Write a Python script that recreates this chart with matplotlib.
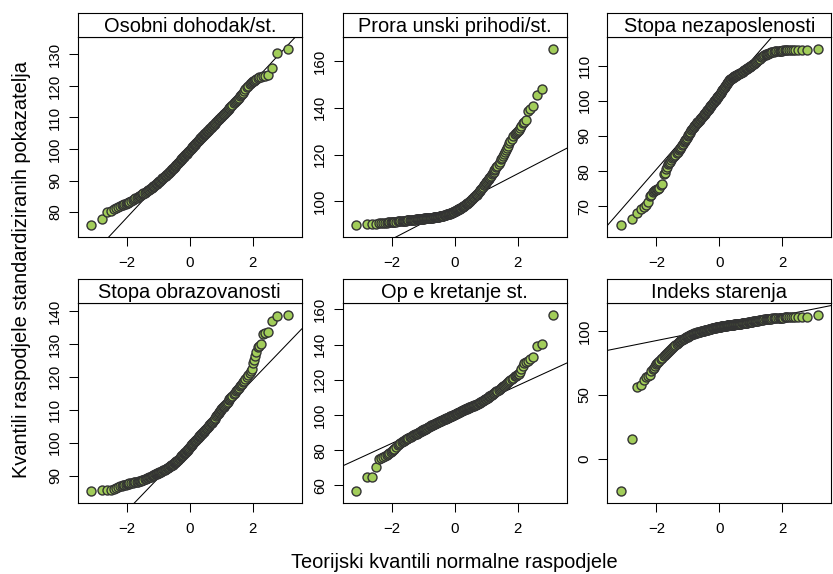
import numpy as np
import matplotlib
matplotlib.use("Agg")
import matplotlib.pyplot as plt
from statistics import NormalDist

plt.rcParams["font.family"] = ["Liberation Sans", "DejaVu Sans"]

# ================== DATA ==================
# 556 units; sorted sample values at these ranks
N_OBS = 556
ranks_lo = list(range(1, 17)) + list(range(18, 41, 2)) + list(range(43, 101, 3)) + list(range(104, 277, 4))
ranks = ranks_lo + [N_OBS + 1 - r for r in reversed(ranks_lo)]

titles = ["Osobni dohodak/st.", "Prora unski prihodi/st.", "Stopa nezaposlenosti",
          "Stopa obrazovanosti", "Op e kretanje st.", "Indeks starenja"]

osobni_dohodak = [
    75.9, 77.9, 80.0, 80.2, 80.9, 81.3, 81.6, 81.9, 82.1, 82.3, 82.5, 82.7, 82.85, 83.0, 83.15, 83.3,
    83.6, 83.85, 84.1, 84.35, 84.6, 84.8, 85.0, 85.2, 85.4, 85.6, 85.75, 85.9,
    86.15, 86.4, 86.65, 86.9, 87.1, 87.35, 87.55, 87.75, 88.0, 88.2,
    88.4, 88.65, 88.85, 89.05, 89.25, 89.45, 89.6, 89.8, 90.0, 90.2,
    90.45, 90.7, 90.9, 91.1, 91.3, 91.55, 91.8, 92.0, 92.2, 92.4,
    92.6, 92.85, 93.05, 93.25, 93.5, 93.7, 93.9, 94.1, 94.35, 94.6,
    94.8, 95.0, 95.2, 95.45, 95.65, 95.9, 96.1, 96.3, 96.55, 96.75,
    96.95, 97.15, 97.35, 97.55, 97.75, 97.95, 98.15, 98.35, 98.55, 98.75,
    98.95, 99.1, 99.3, 99.5,
    99.75, 99.95, 100.15, 100.35, 100.55, 100.75, 100.95, 101.15, 101.35, 101.55,
    101.8, 102.0, 102.2, 102.4, 102.6, 102.8, 103.0, 103.2, 103.4, 103.6,
    103.8, 104.0, 104.2, 104.4, 104.6, 104.8, 105.0, 105.2, 105.4, 105.6,
    105.85, 106.1, 106.35, 106.6, 106.8, 107.05, 107.3, 107.5, 107.75, 108.0,
    108.3, 108.6, 108.85, 109.1,
    109.4, 109.6, 109.85, 110.05, 110.3, 110.5, 110.75, 111.0, 111.25, 111.5,
    111.8, 112.1, 112.4, 112.7, 113.0, 113.3, 113.7, 114.1, 114.5, 114.9,
    115.3, 115.6, 115.95, 116.3, 116.7, 117.1, 117.5, 117.9, 118.4, 118.9, 119.5, 120.0,
    120.5, 120.8, 121.1, 121.4, 121.7, 122.0, 122.2, 122.5, 122.7, 122.9, 123.1, 123.3,
    123.5, 125.8, 130.4, 131.7]

proracunski_prihodi = [
    89.9, 90.2, 90.3, 90.5, 90.6, 90.7, 90.8, 90.9, 90.95, 91.0, 91.05, 91.1, 91.15, 91.2, 91.25, 91.3,
    91.35, 91.4, 91.5, 91.55, 91.6, 91.65, 91.7, 91.75, 91.8, 91.85, 91.9, 91.9,
    91.95, 92.0, 92.05, 92.1, 92.15, 92.2, 92.25, 92.3, 92.3, 92.35,
    92.4, 92.45, 92.5, 92.5, 92.55, 92.6, 92.65, 92.7, 92.7, 92.75,
    92.8, 92.8, 92.85, 92.9, 92.9, 92.95, 93.0, 93.0, 93.05, 93.1,
    93.15, 93.2, 93.25, 93.3, 93.35, 93.4, 93.45, 93.5, 93.6, 93.65,
    93.7, 93.75, 93.8, 93.9, 93.95, 94.0, 94.05, 94.15, 94.25, 94.3,
    94.4, 94.5, 94.55, 94.65, 94.75, 94.8, 94.9, 95.0, 95.1, 95.15,
    95.25, 95.35, 95.45, 95.55,
    95.7, 95.8, 95.95, 96.1, 96.25, 96.4, 96.55, 96.7, 96.85, 97.0,
    97.2, 97.35, 97.5, 97.65, 97.8, 98.0, 98.2, 98.4, 98.6, 98.8,
    99.0, 99.2, 99.4, 99.65, 99.9, 100.1, 100.35, 100.6, 100.85, 101.1,
    101.35, 101.65, 101.9, 102.2, 102.5, 102.85, 103.2, 103.55, 103.95, 104.4,
    104.8, 105.3, 105.8, 106.3,
    106.8, 107.2, 107.6, 108.0, 108.4, 108.8, 109.2, 109.6, 110.05, 110.5,
    111.0, 111.5, 112.0, 112.6, 113.2, 113.8, 114.5, 115.2, 116.0, 116.9,
    117.9, 118.6, 119.4, 120.2, 121.0, 121.9, 122.8, 123.8, 124.8, 125.8, 126.8, 127.8,
    128.7, 129.1, 129.5, 129.9, 130.4, 131.5, 132.3, 133.3, 134.1, 134.8, 138.4, 139.4,
    140.8, 145.5, 147.9, 165.1]

stopa_nezaposlenosti = [
    64.7, 66.4, 68.1, 69.1, 69.8, 70.3, 71.2, 72.8, 73.3, 74.0, 74.3, 74.6, 74.7, 74.9, 75.0, 75.2,
    76.0, 76.4, 79.1, 79.6, 80.5, 81.3, 81.9, 82.3, 82.7, 83.2, 83.6, 84.0,
    84.4, 84.7, 85.1, 85.5, 85.9, 86.3, 86.6, 87.0, 87.4, 87.8,
    88.2, 88.6, 88.9, 89.2, 89.5, 89.9, 90.2, 90.5, 90.9, 91.2,
    91.6, 92.0, 92.3, 92.6, 92.9, 93.2, 93.4, 93.7, 93.9, 94.1,
    94.3, 94.55, 94.8, 95.0, 95.3, 95.5, 95.7, 95.9, 96.1, 96.3,
    96.55, 96.8, 97.0, 97.25, 97.5, 97.7, 97.9, 98.15, 98.4, 98.6,
    98.85, 99.05, 99.3, 99.5, 99.7, 99.9, 100.1, 100.3, 100.55, 100.75,
    100.95, 101.2, 101.4, 101.6,
    101.8, 102.05, 102.3, 102.55, 102.8, 103.0, 103.25, 103.5, 103.75, 104.0,
    104.3, 104.55, 104.8, 105.0, 105.25, 105.45, 105.7, 105.9, 106.05, 106.2,
    106.3, 106.45, 106.55, 106.7, 106.8, 106.9, 107.05, 107.15, 107.3, 107.4,
    107.5, 107.6, 107.7, 107.8, 107.9, 108.0, 108.15, 108.3, 108.45, 108.6,
    108.75, 108.9, 109.05, 109.2,
    109.4, 109.5, 109.65, 109.8, 109.95, 110.1, 110.25, 110.4, 110.55, 110.75,
    110.95, 111.15, 111.4, 111.6, 111.8, 112.0, 112.3, 112.5, 112.7, 112.9,
    113.1, 113.2, 113.3, 113.4, 113.55, 113.65, 113.75, 113.8, 113.9, 114.0, 114.05, 114.1,
    114.15, 114.2, 114.2, 114.25, 114.3, 114.3, 114.3, 114.35, 114.4, 114.4, 114.4, 114.4,
    114.45, 114.5, 114.5, 114.7]

stopa_obrazovanosti = [
    85.3, 85.5, 85.5, 85.6, 86.0, 86.3, 86.5, 86.7, 86.9, 87.0, 87.1, 87.2, 87.3, 87.4, 87.5, 87.6,
    87.7, 87.8, 87.9, 88.0, 88.05, 88.15, 88.25, 88.35, 88.45, 88.5, 88.6, 88.7,
    88.85, 89.0, 89.15, 89.3, 89.45, 89.55, 89.7, 89.85, 90.0, 90.1,
    90.25, 90.35, 90.45, 90.55, 90.7, 90.8, 90.85, 90.95, 91.05, 91.15,
    91.3, 91.45, 91.6, 91.7, 91.8, 91.95, 92.1, 92.2, 92.3, 92.45,
    92.6, 92.75, 92.9, 93.05, 93.2, 93.35, 93.5, 93.7, 93.85, 94.0,
    94.15, 94.3, 94.5, 94.7, 94.85, 95.05, 95.25, 95.45, 95.6, 95.8,
    96.0, 96.2, 96.35, 96.55, 96.75, 96.95, 97.1, 97.3, 97.5, 97.7,
    97.9, 98.1, 98.3, 98.5,
    98.75, 98.95, 99.15, 99.35, 99.55, 99.75, 99.95, 100.15, 100.35, 100.55,
    100.75, 100.95, 101.15, 101.35, 101.55, 101.75, 101.95, 102.15, 102.35, 102.55,
    102.75, 102.95, 103.15, 103.35, 103.55, 103.75, 103.95, 104.15, 104.4, 104.6,
    104.85, 105.1, 105.35, 105.6, 105.85, 106.1, 106.4, 106.7, 107.0, 107.3,
    107.6, 107.95, 108.3, 108.6,
    108.95, 109.25, 109.5, 109.8, 110.1, 110.4, 110.7, 110.95, 111.25, 111.55,
    111.85, 112.15, 112.5, 112.85, 113.2, 113.55, 113.9, 114.3, 114.7, 115.1,
    115.6, 115.9, 116.3, 116.7, 117.1, 117.5, 117.9, 118.3, 118.8, 119.3, 119.9, 120.6,
    121.3, 121.7, 122.5, 124.1, 125.1, 126.3, 127.5, 129.0, 129.4, 129.9, 133.0, 133.4,
    133.7, 137.0, 138.5, 138.8]

opce_kretanje = [
    56.8, 64.7, 64.9, 70.4, 74.7, 75.5, 76.0, 76.6, 77.2, 77.7, 78.3, 78.9, 79.4, 79.9, 80.4, 80.9,
    81.9, 82.8, 83.5, 84.05, 84.5, 84.95, 85.35, 85.75, 86.1, 86.4, 86.65, 86.9,
    87.3, 87.65, 88.0, 88.35, 88.65, 88.95, 89.2, 89.45, 89.75, 90.0,
    90.25, 90.45, 90.7, 90.95, 91.2, 91.45, 91.65, 91.85, 92.05, 92.25,
    92.6, 92.85, 93.1, 93.35, 93.6, 93.85, 94.1, 94.35, 94.55, 94.75,
    94.95, 95.1, 95.3, 95.5, 95.65, 95.85, 96.0, 96.2, 96.35, 96.5,
    96.65, 96.85, 97.0, 97.15, 97.3, 97.5, 97.65, 97.8, 97.95, 98.1,
    98.25, 98.4, 98.55, 98.7, 98.85, 99.0, 99.15, 99.3, 99.45, 99.6,
    99.75, 99.9, 100.05, 100.2,
    100.4, 100.6, 100.75, 100.9, 101.05, 101.2, 101.4, 101.55, 101.7, 101.9,
    102.05, 102.2, 102.4, 102.55, 102.7, 102.85, 103.0, 103.2, 103.35, 103.5,
    103.65, 103.8, 103.95, 104.1, 104.25, 104.4, 104.55, 104.7, 104.85, 105.0,
    105.15, 105.3, 105.45, 105.6, 105.8, 106.0, 106.2, 106.45, 106.7, 106.95,
    107.2, 107.45, 107.7, 108.0,
    108.3, 108.55, 108.8, 109.05, 109.3, 109.6, 109.9, 110.2, 110.5, 110.8,
    111.15, 111.5, 111.85, 112.2, 112.6, 113.0, 113.4, 113.9, 114.4, 114.9,
    115.5, 115.9, 116.3, 116.7, 117.1, 117.6, 118.1, 118.6, 119.2, 119.8, 120.5, 121.2,
    121.9, 122.3, 122.7, 123.2, 123.5, 124.5, 126.2, 128.0, 129.5, 130.0, 130.9, 132.0,
    133.2, 139.4, 140.3, 156.8]

indeks_starenja = [
    -25.3, 15.1, 56.1, 58.0, 62.0, 63.6, 64.5, 65.5, 68.5, 70.0, 71.3, 72.3, 73.8, 75.0, 75.8, 76.6,
    77.8, 79.0, 80.1, 81.1, 82.0, 82.9, 83.7, 84.6, 85.4, 86.2, 87.0, 87.7,
    88.5, 89.3, 90.0, 90.7, 91.3, 91.9, 92.3, 92.8, 93.2, 93.6,
    94.0, 94.4, 94.7, 95.0, 95.3, 95.6, 95.9, 96.2, 96.5, 96.75,
    97.0, 97.3, 97.55, 97.8, 98.05, 98.3, 98.5, 98.7, 98.9, 99.05,
    99.2, 99.35, 99.5, 99.65, 99.8, 99.95, 100.1, 100.25, 100.35, 100.5,
    100.6, 100.75, 100.85, 101.0, 101.1, 101.25, 101.35, 101.5, 101.6, 101.75,
    101.85, 102.0, 102.1, 102.2, 102.35, 102.45, 102.55, 102.65, 102.8, 102.9,
    103.0, 103.1, 103.2, 103.3,
    103.35, 103.4, 103.45, 103.55, 103.6, 103.7, 103.75, 103.85, 103.9, 104.0,
    104.1, 104.15, 104.25, 104.3, 104.4, 104.45, 104.55, 104.6, 104.65, 104.7,
    104.8, 104.85, 104.9, 104.95, 105.0, 105.1, 105.15, 105.2, 105.3, 105.35,
    105.45, 105.5, 105.55, 105.65, 105.7, 105.8, 105.9, 106.0, 106.1, 106.2,
    106.3, 106.4, 106.5, 106.6,
    106.7, 106.8, 106.9, 107.0, 107.1, 107.25, 107.4, 107.5, 107.65, 107.75,
    107.85, 107.95, 108.1, 108.2, 108.35, 108.45, 108.6, 108.7, 108.85, 109.0,
    109.15, 109.25, 109.3, 109.4, 109.5, 109.6, 109.7, 109.8, 109.9, 110.0, 110.1, 110.2,
    110.3, 110.35, 110.4, 110.45, 110.5, 110.6, 110.6, 110.7, 110.7, 110.8, 110.8, 110.9,
    111.0, 111.0, 111.0, 112.5]

series = [osobni_dohodak, proracunski_prihodi, stopa_nezaposlenosti,
          stopa_obrazovanosti, opce_kretanje, indeks_starenja]
yticks = [[80, 90, 100, 110, 120, 130], [100, 120, 140, 160], [70, 80, 90, 100, 110],
          [90, 100, 110, 120, 130, 140], [60, 80, 100, 120, 140, 160], [0, 50, 100]]
xticks = [-2, 0, 2]

for s in series:
    assert len(s) == len(ranks), (len(s), len(ranks))

# ================== LAYOUT (pixels) ==================
W, H = 833, 574
COL_LEFT = [77.7, 342.7, 607.3]
ROW_TOP = [36.7, 302.7]
PW, PH, STRIP_H = 224, 200.6, 24.0

FILL = "#A2CD5A"
EDGE = "#333333"

nd = NormalDist()
theo = np.array([nd.inv_cdf((r - 0.5) / N_OBS) for r in ranks])
q_theo = [nd.inv_cdf(0.25), nd.inv_cdf(0.75)]
q_pos = [(N_OBS - 1) * 0.25 + 1, (N_OBS - 1) * 0.75 + 1]

fig = plt.figure(figsize=(W / 100, H / 100), dpi=100)

for k, (title, vals) in enumerate(zip(titles, series)):
    row, col = divmod(k, 3)
    left = COL_LEFT[col]
    top = ROW_TOP[row]
    ax = fig.add_axes([left / W, 1 - (top + PH) / H, PW / W, PH / H])
    vals = np.array(vals)

    # qqline through the quartiles
    q_samp = np.interp(q_pos, ranks, vals)
    ax.axline((q_theo[0], q_samp[0]), (q_theo[1], q_samp[1]), color="black", lw=0.75, zorder=2)

    ax.scatter(theo, vals, s=42, c=FILL, edgecolors=EDGE, linewidths=1.0, zorder=3)

    xr = theo.max() - theo.min()
    yr = vals.max() - vals.min()
    ax.set_xlim(theo.min() - 0.07 * xr, theo.max() + 0.07 * xr)
    ax.set_ylim(vals.min() - 0.07 * yr, vals.max() + 0.07 * yr)

    ax.set_xticks(xticks)
    ax.set_xticklabels(["\u22122", "0", "2"])
    ax.set_yticks(yticks[k])
    ax.tick_params(direction="out", length=6.7, width=0.75, labelsize=10.8, pad=6.5)
    ax.tick_params(axis="y", labelrotation=90, pad=4.5)
    for lab in ax.get_yticklabels():
        lab.set_va("center")
    for sp in ax.spines.values():
        sp.set_linewidth(0.8)

    # strip
    sax = fig.add_axes([left / W, 1 - top / H, PW / W, STRIP_H / H])
    sax.set_xticks([])
    sax.set_yticks([])
    for sp in sax.spines.values():
        sp.set_linewidth(0.8)
    sax.text(0.5, 0.19, title, ha="center", va="baseline", fontsize=14.4, transform=sax.transAxes)

fig.text(454.3 / W, 1 - 568.3 / H, "Teorijski kvantili normalne raspodjele",
         ha="center", va="baseline", fontsize=14.4)
fig.text(21.5 / W, 1 - 270 / H, "Kvantili raspodjele standardiziranih pokazatelja",
         ha="center", va="center", rotation=90, fontsize=14.4)

fig.savefig("out.png", dpi=100)
